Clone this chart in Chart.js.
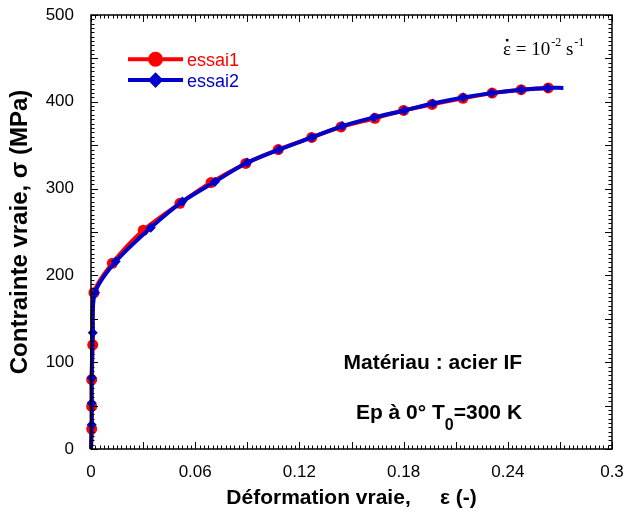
<!DOCTYPE html>
<html>
<head>
<meta charset="utf-8">
<script src="https://cdn.jsdelivr.net/npm/chart.js@4"></script>
<style>
  html, body { margin: 0; padding: 0; background: #fff; }
  #wrap { width: 627px; height: 516px; }
</style>
</head>
<body>
<div id="wrap"><canvas id="stressPlot" width="627" height="516"></canvas></div>
<script>
'use strict';

// essai1 (red circles)
const essai1X = [0, 0.0004, 0.0004, 0.0004, 0.001, 0.0017, 0.0123, 0.0301, 0.0512, 0.0691, 0.0891, 0.1078, 0.1271, 0.144, 0.1635, 0.180, 0.1964, 0.2142, 0.231, 0.2477, 0.2633];
const essai1Y = [0, 23, 49, 80, 120, 180, 214, 252, 283, 307, 329, 345, 359, 371, 381, 390, 397, 404, 410, 414, 416];

// essai2 (blue diamonds)
const essai2X = [0, 0.0004, 0.0004, 0.0004, 0.001, 0.0023, 0.0142, 0.0344, 0.0526, 0.0714, 0.090, 0.1083, 0.1271, 0.1447, 0.163, 0.1804, 0.1968, 0.2144, 0.2307, 0.2477, 0.263, 0.272];
const essai2Y = [0, 28, 53, 82, 134, 180, 216, 255, 285, 308, 330, 345, 359, 372, 382, 390, 398, 405, 410, 414, 416, 416];

const xTicks = [0, 0.06, 0.12, 0.18, 0.24, 0.3];
const yTicks = [0, 100, 200, 300, 400, 500];

const RED = "#FF0000";
const BLUE = "#0000CC";
const SANS = '"Liberation Sans", Arial, sans-serif';
const SERIF = '"Liberation Serif", "Times New Roman", serif';

const toPoints = (xs, ys) => xs.map((x, i) => ({ x: x, y: ys[i] }));
const hideEnds = (xs, r) => xs.map((_, i) => (i === 0 || (xs === essai2X && i === xs.length - 1)) ? 0 : r);

// inward ticks on all four sides + frame, legend and notes
const frameTicks = {
    id: "frameTicks",
    afterDatasetsDraw(chart) {
        const { ctx, chartArea: a, scales: { x, y } } = chart;
        ctx.save();
        ctx.strokeStyle = "#000";
        ctx.lineWidth = 1;
        ctx.beginPath();
        for (let i = 0; i <= 120; i++) {
            const px = Math.round(x.getPixelForValue(i * 0.0025)) + 0.5;
            const len = (i % 12 === 0) ? 7 : 3.5;
            ctx.moveTo(px, a.bottom); ctx.lineTo(px, a.bottom - len);
            ctx.moveTo(px, a.top); ctx.lineTo(px, a.top + len);
        }
        for (let i = 0; i <= 100; i++) {
            const py = Math.round(y.getPixelForValue(i * 5)) + 0.5;
            const len = (i % 10 === 0) ? 7 : 3.5;
            ctx.moveTo(a.left, py); ctx.lineTo(a.left + len, py);
            ctx.moveTo(a.right, py); ctx.lineTo(a.right - len, py);
        }
        ctx.stroke();
        ctx.lineWidth = 1.5;
        ctx.strokeRect(a.left, a.top, a.right - a.left, a.bottom - a.top);
        ctx.restore();
    },
    afterDraw(chart) {
        const { ctx, scales: { x, y } } = chart;
        ctx.save();
        // legend
        const legendRows = [
            { label: "essai1", color: RED, style: "circle", r: 5.5, yv: 449 },
            { label: "essai2", color: BLUE, style: "rectRot", r: 5, yv: 425 },
        ];
        const lx0 = x.getPixelForValue(0.0213), lx1 = x.getPixelForValue(0.053);
        legendRows.forEach(row => {
            const py = y.getPixelForValue(row.yv);
            ctx.strokeStyle = row.color;
            ctx.fillStyle = row.color;
            ctx.lineWidth = 4;
            ctx.beginPath(); ctx.moveTo(lx0, py); ctx.lineTo(lx1, py); ctx.stroke();
            Chart.helpers.drawPoint(ctx, { pointStyle: row.style, radius: row.r, borderWidth: 1 }, (lx0 + lx1) / 2, py);
            ctx.font = "18px " + SANS;
            ctx.textBaseline = "middle";
            ctx.textAlign = "left";
            ctx.fillText(row.label, lx1 + 4, py + 2);
        });

        // strain rate note
        ctx.fillStyle = "#000";
        ctx.textBaseline = "alphabetic";
        ctx.textAlign = "left";
        let tx = x.getPixelForValue(0.2372);
        const ty = y.getPixelForValue(454);
        ctx.font = "19px " + SERIF;
        ctx.fillText("\u03b5", tx, ty);
        const ew = ctx.measureText("\u03b5").width;
        ctx.fillRect(tx + ew / 2 - 1, ty - 16, 2.5, 2.5);
        tx += ew;
        ctx.fillText(" = 10", tx, ty);
        tx += ctx.measureText(" = 10").width;
        ctx.font = "12px " + SERIF;
        ctx.fillText("-2", tx + 1, ty - 9);
        tx += ctx.measureText("-2").width + 1;
        ctx.font = "19px " + SERIF;
        ctx.fillText(" s", tx, ty);
        tx += ctx.measureText(" s").width;
        ctx.font = "12px " + SERIF;
        ctx.fillText("-1", tx + 1, ty - 9);

        // material notes
        ctx.font = "bold 21px " + SANS;
        ctx.textAlign = "right";
        ctx.textBaseline = "middle";
        const rx = x.getPixelForValue(0.2482);
        ctx.fillText("Mat\u00e9riau : acier IF", rx, y.getPixelForValue(99));
        const py2 = y.getPixelForValue(41.5);
        const tail = "=300 K";
        ctx.fillText(tail, rx, py2);
        let cx = rx - ctx.measureText(tail).width;
        ctx.font = "bold 16px " + SANS;
        ctx.fillText("0", cx, py2 + 13);
        cx -= ctx.measureText("0").width;
        ctx.font = "bold 21px " + SANS;
        ctx.fillText("Ep \u00e0 0\u00b0 T", cx, py2);
        ctx.restore();
    }
};

const ctx = document.getElementById("stressPlot").getContext("2d");

const stressPlot = new Chart(ctx, {
    type: "scatter",
    data: {
        datasets: [
            {
                label: "essai1",
                data: toPoints(essai1X, essai1Y),
                showLine: true,
                clip: false,
                borderColor: RED,
                backgroundColor: RED,
                borderWidth: 4,
                pointStyle: "circle",
                pointRadius: hideEnds(essai1X, 5.5),
                pointBorderWidth: 0,
                tension: 0.3,
                order: 1,
            },
            {
                label: "essai2",
                data: toPoints(essai2X, essai2Y),
                showLine: true,
                clip: false,
                borderColor: BLUE,
                backgroundColor: BLUE,
                borderWidth: 4,
                pointStyle: "rectRot",
                pointRadius: hideEnds(essai2X, 5),
                pointBorderWidth: 0,
                tension: 0.3,
                order: 0,
            },
        ],
    },
    options: {
        responsive: false,
        animation: false,
        layout: { padding: { top: 15, right: 15, left: 0, bottom: 0 } },
        scales: {
            x: {
                type: "linear",
                min: 0,
                max: 0.3,
                grid: { display: false, drawTicks: false },
                border: { display: false },
                afterBuildTicks: (s) => { s.ticks = xTicks.map(v => ({ value: v })); },
                afterFit: (s) => { s.height = 67; s.paddingLeft = 0; s.paddingRight = 0; },
                ticks: {
                    padding: 13,
                    color: "#000",
                    font: { family: SANS, size: 17 },
                    maxRotation: 0,
                    callback: (v) => String(parseFloat(Number(v).toFixed(2))),
                },
                title: {
                    display: true,
                    text: "D\u00e9formation vraie,     \u03b5 (-)",
                    color: "#000",
                    font: { family: SANS, size: 21, weight: "bold" },
                    padding: { top: 0, bottom: 5 },
                },
            },
            y: {
                type: "linear",
                min: 0,
                max: 500,
                grid: { display: false, drawTicks: false },
                border: { display: false },
                afterBuildTicks: (s) => { s.ticks = yTicks.map(v => ({ value: v })); },
                afterFit: (s) => { s.width = 91; s.paddingTop = 0; s.paddingBottom = 0; },
                ticks: {
                    padding: 17,
                    color: "#000",
                    font: { family: SANS, size: 17 },
                },
                title: {
                    display: true,
                    text: "Contrainte vraie, \u03c3 (MPa)",
                    color: "#000",
                    font: { family: SANS, size: 24, weight: "bold" },
                    padding: { top: 6, bottom: 0 },
                },
            },
        },
        plugins: {
            legend: { display: false },
            tooltip: { enabled: false },
        },
    },
    plugins: [frameTicks],
});
</script>
</body>
</html>
